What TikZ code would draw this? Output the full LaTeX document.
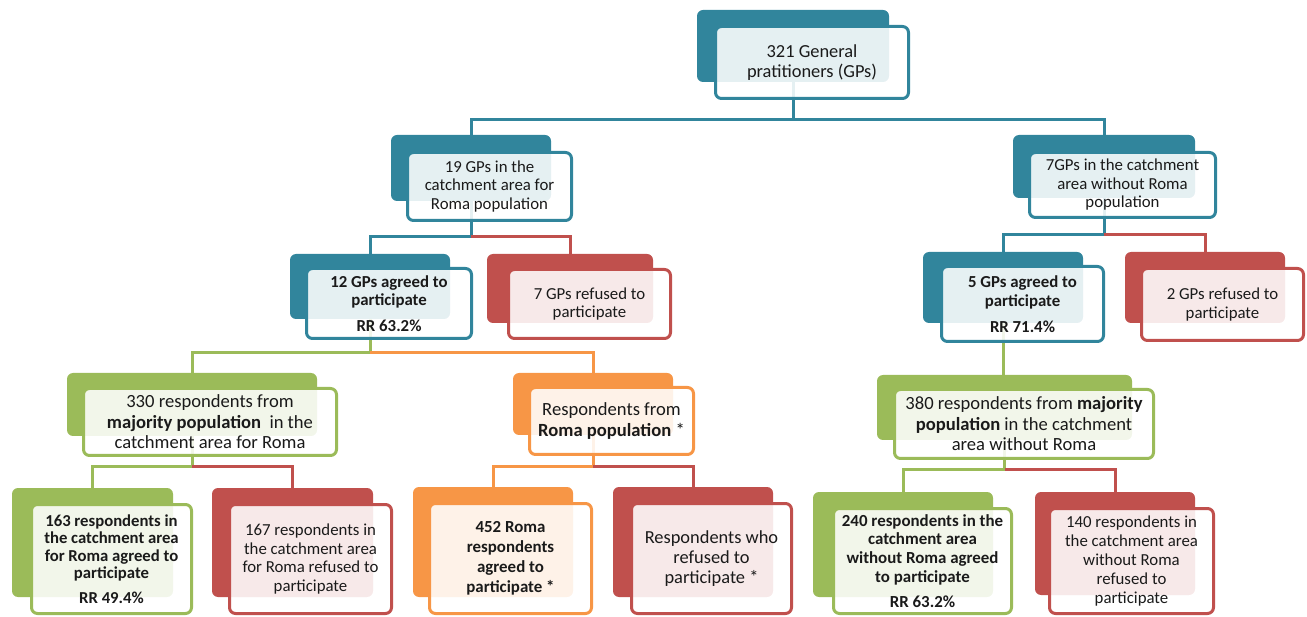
\documentclass[tikz,border=0pt]{standalone}
\usepackage{fontspec}
\setmainfont{Carlito}
\pgfdeclarelayer{bg}
\pgfsetlayers{bg,main}
\definecolor{cteal}{HTML}{31859C}
\definecolor{cred}{HTML}{C0504D}
\definecolor{cgreen}{HTML}{9BBB59}
\definecolor{corange}{HTML}{F79646}
\definecolor{ctext}{HTML}{1A1A1A}
\tikzset{
  backbox/.style={rectangle, rounded corners=6pt, inner sep=0pt, fill=#1, draw=none},
  frontbox/.style={rectangle, rounded corners=6pt, inner sep=0pt, draw=#1, line width=3pt,
     fill=white, fill opacity=0.88, text opacity=1, align=center, text=ctext},
  conn/.style={line width=3pt, draw=#1},
  fA/.style={font=\fontsize{18.4pt}{20pt}\selectfont},
  fB/.style={font=\fontsize{16.8pt}{18.5pt}\selectfont},
  fC/.style={font=\fontsize{18.6pt}{20.5pt}\selectfont},
  fD/.style={font=\fontsize{16.8pt}{18.8pt}\selectfont},
  fE/.style={font=\fontsize{16.7pt}{17.5pt}\selectfont\bfseries},
  fF/.style={font=\fontsize{16.9pt}{20pt}\selectfont\bfseries},
  fG/.style={font=\fontsize{18.4pt}{20pt}\selectfont},
  fH/.style={font=\fontsize{16.9pt}{18.7pt}\selectfont\bfseries},
}
\begin{document}
\begin{tikzpicture}[x=1pt,y=-1pt]
\useasboundingbox (0,0) rectangle (1307,617);
% level 1
\node[backbox=cteal, minimum width=192pt, minimum height=72pt] (topb) at (793,46) {};
\node[frontbox=cteal, fA, minimum width=193pt, minimum height=72pt] (topf) at (812,62.5) {321 General\\pratitioners (GPs)};
% level 2
\node[backbox=cteal, minimum width=160pt, minimum height=66pt] (b19) at (471,168) {};
\node[frontbox=cteal, fB, minimum width=164pt, minimum height=68pt] (f19) at (489.5,186.5) {19 GPs in the\\catchment area for\\Roma population};
\node[backbox=cteal, minimum width=182pt, minimum height=63pt] (b7w) at (1104,166.5) {};
\node[frontbox=cteal, fB, minimum width=186pt, minimum height=65pt] (f7w) at (1122.5,185) {7GPs in the catchment\\area without Roma\\population};
% level 3
\node[backbox=cteal, minimum width=160pt, minimum height=65pt] (b12) at (370,286.5) {};
\node[frontbox=cteal, fB, minimum width=165pt, minimum height=70pt] (f12) at (389,303.5) {\bfseries 12 GPs agreed to\\\bfseries participate\\[7.5pt]\bfseries RR 63.2\%};
\node[backbox=cred, minimum width=166pt, minimum height=69pt] (b7r) at (570,288.5) {};
\node[frontbox=cred, fB, minimum width=162pt, minimum height=69pt] (f7r) at (589.5,304) {7 GPs refused to\\participate};
\node[backbox=cteal, minimum width=160pt, minimum height=71pt] (b5) at (1003,287.5) {};
\node[frontbox=cteal, fB, minimum width=162pt, minimum height=75pt] (f5) at (1022.5,304) {\bfseries 5 GPs agreed to\\\bfseries participate\\[7.5pt]\bfseries RR 71.4\%};
\node[backbox=cred, minimum width=160pt, minimum height=71pt] (b2) at (1205,287.5) {};
\node[frontbox=cred, fB, minimum width=162pt, minimum height=72pt] (f2) at (1222.5,304.5) {2 GPs refused to\\participate};
% level 4
\node[backbox=cgreen, minimum width=250pt, minimum height=63pt] (b330) at (192,404.5) {};
\node[frontbox=cgreen, fC, minimum width=253pt, minimum height=67pt] (f330) at (210,422) {330 respondents from\\\textbf{majority population}\ \ in the\\catchment area for Roma};
\node[backbox=corange, minimum width=160pt, minimum height=62pt] (bRo) at (593,404) {};
\node[frontbox=corange, fC, minimum width=164pt, minimum height=67pt] (fRo) at (611.5,421) {Respondents from\\\textbf{Roma population} *};
\node[backbox=cgreen, minimum width=255pt, minimum height=65pt] (b380) at (1004.5,407.5) {};
\node[frontbox=cgreen, fC, minimum width=259pt, minimum height=69pt] (f380) at (1024,424) {380 respondents from \textbf{majority}\\\textbf{population} in the catchment\\area without Roma};
% level 5
\node[backbox=cgreen, minimum width=161pt, minimum height=109pt] (b163) at (92.5,542.5) {};
\node[frontbox=cgreen, fE, minimum width=160pt, minimum height=109pt] (f163) at (111.5,559) {163 respondents in\\the catchment area\\for Roma agreed to\\participate\\[7.5pt]RR 49.4\%};
\node[backbox=cred, minimum width=161pt, minimum height=109pt] (b167) at (292.5,542.5) {};
\node[frontbox=cred, fD, minimum width=162pt, minimum height=109pt] (f167) at (310.5,559) {167 respondents in\\the catchment area\\for Roma refused to\\participate};
\node[backbox=corange, minimum width=160pt, minimum height=110pt] (b452) at (493,542) {};
\node[frontbox=corange, fF, minimum width=162pt, minimum height=110pt] (f452) at (510.5,558.5) {452 Roma\\respondents\\agreed to\\participate *};
\node[backbox=cred, minimum width=160pt, minimum height=110pt] (bRr) at (693,542) {};
\node[frontbox=cred, fG, minimum width=160pt, minimum height=110pt] (fRr) at (711.5,558.5) {Respondents who\\refused to\\participate *};
\node[backbox=cgreen, minimum width=180pt, minimum height=105pt] (b240) at (903,544.5) {};
\node[frontbox=cgreen, fH, minimum width=178pt, minimum height=105pt] (f240) at (922.5,561) {240 respondents in the\\catchment area\\without Roma agreed\\to participate\\[6.5pt]RR 63.2\%};
\node[backbox=cred, minimum width=160pt, minimum height=103pt] (b140) at (1115,543.5) {};
\node[frontbox=cred, fD, minimum width=164pt, minimum height=105pt] (f140) at (1131.5,561) {140 respondents in\\the catchment area\\without Roma\\refused to\\participate};
% junctions
\coordinate (jtop) at (793,120);
\coordinate (j19) at (471,237);
\coordinate (j7) at (1104,235);
\coordinate (j12) at (370,353);
\coordinate (j330) at (192,467);
\coordinate (jRo) at (593,467);
\coordinate (j380) at (1004.5,470);
\begin{pgfonlayer}{bg}
\draw[conn=cteal] (topb.south) -- (jtop) -| (b19.north);
\draw[conn=cteal] (jtop) -| (b7w.north);
\draw[conn=cteal] (b19.south) -- (j19) -| (b12.north);
\draw[conn=cred] (j19) -| (b7r.north);
\draw[conn=cteal] (b7w.south) -- (j7) -| (b5.north);
\draw[conn=cred] (j7) -| (b2.north);
\draw[conn=cgreen] (b12.south) -- (j12) -| (b330.north);
\draw[conn=corange] (j12) -| (bRo.north);
\draw[conn=cgreen] (b5.south) -- (b5.south |- b380.north);
\draw[conn=cgreen] (b330.south) -- (j330) -| (b163.north);
\draw[conn=cred] (j330) -| (b167.north);
\draw[conn=corange] (bRo.south) -- (jRo) -| (b452.north);
\draw[conn=cred] (jRo) -| (bRr.north);
\draw[conn=cgreen] (b380.south) -- (j380) -| (b240.north);
\draw[conn=cred] (j380) -| (b140.north);
\end{pgfonlayer}
\end{tikzpicture}
\end{document}
